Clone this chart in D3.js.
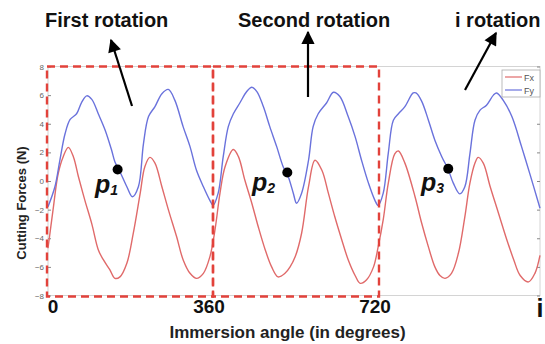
<!DOCTYPE html>
<html><head><meta charset="utf-8">
<script src="https://cdn.jsdelivr.net/npm/d3@7/dist/d3.min.js"></script>
<style>body{margin:0;background:#fff}svg{display:block;font-family:"Liberation Sans",Arial,sans-serif}</style>
</head><body><svg id="c" width="545" height="344"></svg>
<script>
// Data: [immersion angle (deg), force (N)]
const fxPoints = [[0,-4.7],[11,-2.0],[22,0.5],[33,1.7],[44,2.35],[55,1.7],[66,0.3],[80,-1.35],[95,-3.0],[109,-4.8],[120,-5.5],[134,-6.2],[145,-6.8],[156,-6.7],[171,-5.75],[185,-3.65],[200,-0.85],[210,1.0],[221,1.65],[232,1.25],[247,-0.4],[261,-2.0],[279,-3.9],[293,-5.5],[308,-6.45],[322,-6.8],[337,-6.45],[351,-5.3],[362,-3.45],[373,-0.85],[384,1.0],[402,2.2],[413,1.7],[427,0.05],[442,-1.55],[456,-3.2],[471,-4.8],[485,-6.0],[499,-6.7],[514,-6.45],[525,-6.0],[536,-5.3],[550,-3.65],[565,-0.4],[579,1.45],[594,0.75],[608,-0.85],[622,-2.5],[637,-4.1],[651,-5.5],[666,-6.6],[677,-7.15],[691,-6.9],[706,-6.0],[716,-4.6],[727,-2.7],[738,-0.15],[752,1.9],[760,2.1],[774,1.25],[796,-1.1],[810,-2.9],[825,-4.6],[839,-6.0],[850,-6.6],[861,-6.8],[875,-6.45],[890,-5.05],[904,-2.5],[915,-0.15],[926,1.25],[933,1.65],[944,1.25],[959,-0.4],[977,-2.25],[995,-4.1],[1010,-5.5],[1024,-6.6],[1042,-7.05],[1056,-6.45],[1067,-5.2]];
const fyPoints = [[0,-1.8],[15,-0.4],[26,1.5],[37,3.3],[48,4.3],[62,4.7],[73,5.5],[84,5.95],[95,5.7],[109,4.7],[124,3.55],[138,2.15],[145,1.35],[156,0.65],[171,-0.4],[183,-1.1],[196,-0.4],[207,2.6],[218,4.5],[232,5.2],[247,6.1],[261,6.4],[275,5.65],[293,3.8],[308,2.4],[322,0.75],[337,-0.4],[351,-1.35],[358,-1.7],[369,-0.85],[380,1.7],[391,3.8],[402,4.7],[416,5.45],[431,6.25],[442,6.55],[453,6.25],[467,5.2],[481,3.8],[496,2.4],[510,1.0],[521,0.3],[532,-0.85],[539,-1.55],[550,-0.85],[565,1.45],[575,3.8],[586,4.7],[604,5.45],[619,6.2],[633,5.9],[651,4.5],[666,3.1],[680,1.45],[695,-0.15],[709,-1.35],[716,-1.7],[727,-0.85],[738,1.95],[749,4.25],[760,4.7],[774,5.2],[792,6.15],[798,6.15],[810,5.6],[825,4.25],[839,2.85],[854,1.7],[868,0.8],[879,-0.15],[893,-0.9],[904,-0.4],[915,1.9],[926,4.25],[937,4.95],[951,5.3],[966,6.0],[973,6.15],[987,5.65],[1006,4.5],[1027,2.4],[1045,0.5],[1067,-1.9]];
const yTicks = [-8,-6,-4,-2,0,2,4,6,8];
const xLabels = [{v:0,t:"0"},{v:360,t:"360"},{v:720,t:"720"}];
const rotations = [[0,360],[360,720]];
const rotationTitles = ["First rotation","Second rotation","i rotation"];
const marks = [{a:151,f:0.8,n:"1"},{a:519,f:0.6,n:"2"},{a:868,f:0.85,n:"3"}];
const seriesNames = ["Fx","Fy"];

const svg = d3.select("#c");
const x = d3.scaleLinear().domain([0,1067]).range([48,540]);
const y = d3.scaleLinear().domain([-8,8]).range([295.5,66.5]);

// frame
svg.append("rect").attr("x",48).attr("y",66.5).attr("width",492).attr("height",229)
  .attr("fill","none").attr("stroke","#d4d4d4").attr("stroke-width",1);

// axes
const ya = svg.append("g").attr("transform","translate(48,0)")
  .call(d3.axisLeft(y).tickValues(yTicks).tickSize(-3).tickPadding(4));
ya.select(".domain").remove();
ya.selectAll("line").attr("stroke","#888");
ya.selectAll("text").attr("font-size",8).attr("fill","#666").attr("font-family","Liberation Sans, Arial");
const yr = svg.append("g").attr("transform","translate(540,0)")
  .call(d3.axisRight(y).tickValues(yTicks).tickSize(-3).tickFormat(""));
yr.select(".domain").remove();
yr.selectAll("line").attr("stroke","#888");

// curves
const line = d3.line().x(d=>x(d[0])).y(d=>y(d[1])).curve(d3.curveCatmullRom.alpha(0.5));
svg.append("path").datum(fxPoints).attr("d",line).attr("fill","none").attr("stroke","#e06a6a").attr("stroke-width",1.4);
svg.append("path").datum(fyPoints).attr("d",line).attr("fill","none").attr("stroke","#6a72dc").attr("stroke-width",1.4);

// rotation boxes
const red = "#e2423b";
rotations.forEach((r,i)=>{
  svg.append("rect").attr("x",x(r[0])-1).attr("y",y(8)).attr("width",x(r[1])-x(r[0])).attr("height",y(-8)-y(8)+1)
    .attr("fill","none").attr("stroke",red).attr("stroke-width",2.4).attr("stroke-dasharray","8,5");
});

// legend
const lg = svg.append("g");
lg.append("rect").attr("x",502).attr("y",70).attr("width",38).attr("height",27).attr("fill","#fff").attr("stroke","#aaa").attr("stroke-width",0.8);
[["#e06a6a",77],["#6a72dc",90]].forEach((c,i)=>{
  lg.append("line").attr("x1",505).attr("x2",522).attr("y1",c[1]).attr("y2",c[1]).attr("stroke",c[0]).attr("stroke-width",1.2);
  lg.append("text").attr("x",524).attr("y",c[1]+3.5).attr("font-size",9).attr("fill","#555").text(seriesNames[i]);
});

// points p1..p3
marks.forEach((m,i)=>{
  svg.append("circle").attr("cx",x(m.a)).attr("cy",y(m.f)).attr("r",5).attr("fill","#000");
});
const pPos = [[95,193],[252,191],[421,191]];
marks.forEach((m,i)=>{
  const t = svg.append("text").attr("x",pPos[i][0]).attr("y",pPos[i][1])
    .attr("font-weight","bold").attr("font-style","italic").attr("fill","#111");
  t.append("tspan").attr("font-size",25).text("p");
  t.append("tspan").attr("font-size",14).attr("dy",2).text(m.n);
});

// titles
const titleX = [45,238,455];
rotationTitles.forEach((s,i)=>{
  svg.append("text").attr("x",titleX[i]).attr("y",27).attr("font-size",20).attr("font-weight","bold").attr("fill","#111").text(s);
});

// arrows
svg.append("defs").append("marker").attr("id","ah").attr("viewBox","0 0 10 10").attr("refX",9).attr("refY",5)
  .attr("markerWidth",6.5).attr("markerHeight",6).attr("markerUnits","strokeWidth").attr("orient","auto")
  .append("path").attr("d","M0,0L10,5L0,10Z").attr("fill","#000");
[[132,106,111,40],[308,97,308,32],[465,90,496,33]].forEach(a=>{
  svg.append("line").attr("x1",a[0]).attr("y1",a[1]).attr("x2",a[2]).attr("y2",a[3])
    .attr("stroke","#000").attr("stroke-width",2.2).attr("marker-end","url(#ah)");
});

// x labels
const xOff = [5,-5,-5];
xLabels.forEach((d,i)=>{
  svg.append("text").attr("x",x(d.v)+xOff[i]).attr("y",313).attr("text-anchor","middle")
    .attr("font-size",19).attr("font-weight","bold").attr("fill","#111").text(d.t);
});
svg.append("text").attr("x",x(1067)).attr("y",317).attr("text-anchor","middle")
  .attr("font-size",25).attr("font-weight","bold").attr("fill","#111").text("i");
svg.append("text").attr("x",287.5).attr("y",338).attr("text-anchor","middle")
  .attr("font-size",17).attr("font-weight","bold").attr("fill","#222").text("Immersion angle (in degrees)");
svg.append("text").attr("transform","translate(26,203) rotate(-90)").attr("text-anchor","middle")
  .attr("font-size",13).attr("font-weight","bold").attr("fill","#222").text("Cutting Forces (N)");
</script></body></html>
